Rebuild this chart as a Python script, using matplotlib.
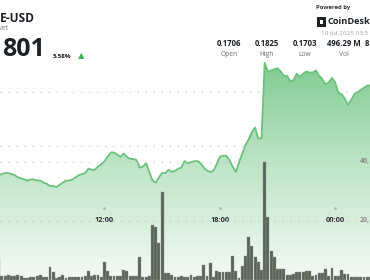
import numpy as np
import matplotlib
matplotlib.use("Agg")
import matplotlib.pyplot as plt
from matplotlib.colors import LinearSegmentedColormap
from matplotlib.patches import Rectangle
import matplotlib.transforms as mtransforms

plt.rcParams['font.family'] = ['Open Sans', 'DejaVu Sans']

# 10-minute steps, hours since 00:00 on 9 Jul (24 = 00:00 next day)
start_hour = 6.5
step = 1 / 6

price = [0.1723, 0.1724, 0.1725, 0.1725, 0.1724, 0.1723, 0.1721, 0.1720, 0.1719, 0.1718,
         0.1719, 0.1719, 0.1718, 0.1718, 0.1716, 0.1715, 0.1713, 0.1713, 0.1712, 0.1714,
         0.1716, 0.1718, 0.1718, 0.1719, 0.1721, 0.1723, 0.1724, 0.1725, 0.1729, 0.1728,
         0.1728, 0.1731, 0.1733, 0.1736, 0.1740, 0.1744, 0.1744, 0.1742, 0.1740, 0.1743,
         0.1740, 0.1738, 0.1738, 0.1737, 0.1730, 0.1731, 0.1734, 0.1726, 0.1718, 0.1716,
         0.1721, 0.1725, 0.1725, 0.1728, 0.1726, 0.1727, 0.1729, 0.1730, 0.1736, 0.1734,
         0.1735, 0.1736, 0.1736, 0.1734, 0.1730, 0.1727, 0.1726, 0.1727, 0.1733, 0.1740,
         0.1741, 0.1741, 0.1737, 0.1731, 0.1726, 0.1735, 0.1743, 0.1751, 0.1756, 0.1763,
         0.1767, 0.1757, 0.1757, 0.1827, 0.1819, 0.1820, 0.1821, 0.1822, 0.1819, 0.1815,
         0.1815, 0.1810, 0.1811, 0.1817, 0.1814, 0.1817, 0.1819, 0.1818, 0.1818, 0.1820,
         0.1815, 0.1812, 0.1807, 0.1809, 0.1813, 0.1809, 0.1799, 0.1798, 0.1794, 0.1788,
         0.1793, 0.1798, 0.1800, 0.1802, 0.1804, 0.1806, 0.1806]

# volume per bar, millions
volume = [7.5, 1.5, 1.4, 1.6, 1.5, 1.4, 1.6, 1.5, 0.8, 0.7,
          0.9, 1.0, 1.2, 1.6, 1.0, 0.9, 4.4, 2.7, 0.8, 0.9,
          1.6, 0.6, 0.9, 1.1, 0.9, 0.9, 1.0, 1.4, 3.0, 1.5,
          1.8, 1.7, 0.9, 6.1, 3.0, 1.4, 1.3, 1.4, 1.5, 3.4,
          3.2, 1.3, 1.2, 1.4, 7.8, 1.0, 1.1, 1.3, 18.6, 18.0,
          12.5, 29.8, 2.4, 2.4, 1.6, 0.9, 1.1, 1.3, 1.0, 1.1,
          1.6, 0.9, 1.2, 1.2, 5.1, 1.4, 5.8, 1.0, 3.1, 2.7,
          2.7, 2.7, 2.7, 8.1, 3.1, 0.8, 4.7, 8.1, 14.5, 11.5,
          7.8, 6.1, 3.4, 40.0, 21.4, 9.8, 7.8, 3.7, 3.7, 3.7,
          1.8, 1.7, 1.9, 2.7, 2.6, 2.8, 3.1, 3.0, 1.5, 1.6,
          2.5, 2.4, 3.7, 1.3, 4.0, 1.3, 1.2, 3.4, 2.0, 2.1,
          1.0, 0.9, 1.0, 1.1, 0.9, 1.0, 1.0]

hours = start_hour + step * np.arange(len(price))
time_ticks = [12, 18, 24]
time_labels = ['12:00', '18:00', '00:00']
price_grid = [0.180, 0.175]
vol_grid = [20, 40]
vol_labels = ['20,', '40,']

stats_values = ['0.1706', '0.1825', '0.1703', '496.29 M']
stats_names = ['Open', 'High', 'Low', 'Vol']

W, H = 370, 280
fig = plt.figure(figsize=(3.7, 2.8), dpi=100)
fig.patch.set_facecolor('white')

ax = fig.add_axes([0, 0, 1, 1])
ax.set_xlim(6.569, 25.81)
ax.set_ylim(0.16259, 0.188519)
ax.axis('off')
ax.patch.set_alpha(0)

ax2 = ax.twinx()
ax2.set_ylim(0, 94.9)
ax2.axis('off')
ax2.patch.set_alpha(0)

# gradient area under the price line
cmap = LinearSegmentedColormap.from_list('g', ['#f3faf4', '#bfe5c7', '#7cca8d'])
grad = np.linspace(0, 1, 256).reshape(-1, 1)
poly = ax.fill_between(hours, price, 0.16259, color='none')
img = ax.imshow(grad, aspect='auto', cmap=cmap, origin='lower',
                extent=[6.569, 25.81, 0.16259, 0.1835], zorder=1)
img.set_clip_path(poly.get_paths()[0], transform=ax.transData)
ax.plot(hours, price, color='#6cc27d', lw=1.3, zorder=3, solid_joinstyle='round')

for p in price_grid:
    ax.axhline(p, color='#c4c4c4', lw=1.0, ls=(0, (0.8, 5)), zorder=2)

ax2.bar(hours, volume, width=step * 0.9, color='#59635a', edgecolor='#8f998f',
        linewidth=0.3, zorder=4)
for v, lab in zip(vol_grid, vol_labels):
    ax2.axhline(v, xmax=0.96, color='#c4c4c4', lw=1.0, ls=(0, (0.8, 5)), zorder=2)
    ax2.text(1.0, v, lab, transform=mtransforms.blended_transform_factory(ax2.transAxes, ax2.transData),
             ha='right', va='center', fontsize=5, color='#8a8a8a', fontweight='bold')

trans = mtransforms.blended_transform_factory(ax.transData, ax.transAxes)
for t, lab in zip(time_ticks, time_labels):
    ax.text(t, 1 - 220 / H, lab, transform=trans, ha='center', va='center',
            fontsize=5.3, color='#2b2f33', fontweight='bold', zorder=5)
    ax.plot([t], [1 - 208 / H], transform=trans, marker='o', ms=0.8, color='#b0b0b0', zorder=5)


def ftext(x, y, s, **kw):
    fig.text(x / W, 1 - y / H, s, **kw)


# top-left header
ftext(0, 18, 'E-USD', fontsize=8.6, fontweight='bold', color='#1d2125', va='center')
ftext(0, 29, 'art', fontsize=5, color='#7a7a7a', va='center')
ftext(2, 49, '801', fontsize=18, fontweight='bold', color='#1d2125', va='center')
ftext(53, 56, '5.58%', fontsize=4.6, fontweight='bold', color='#1d2125', va='center')
ftext(78, 56, '▲', fontsize=6, color='#3fae5a', va='center', family='DejaVu Sans')

# top-right header
ftext(316, 7, 'Powered by', fontsize=4.3, fontweight='bold', color='#333333', va='center')
fig.add_artist(Rectangle((317 / W, 1 - 27 / H), 9 / W, 10 / H, transform=fig.transFigure,
                         facecolor='#1d2125', edgecolor='none'))
fig.add_artist(Rectangle((320 / W, 1 - 24 / H), 3 / W, 4 / H, transform=fig.transFigure,
                         facecolor='white', edgecolor='none'))
ftext(327.5, 22, 'CoinDesk', fontsize=6.6, fontweight='bold', color='#1d2125', va='center')
ftext(321, 33, '10 Jul 2025 03:5', fontsize=4.6, color='#a0a0a0', va='center')

stat_x = [229, 267, 305, 344]
for x, v, n in zip(stat_x, stats_values, stats_names):
    ftext(x, 44, v, fontsize=5.6, fontweight='bold', color='#1d2125', ha='center', va='center')
    ftext(x, 54, n, fontsize=4.8, color='#6f6f6f', ha='center', va='center')
ftext(365, 44, '8', fontsize=5.6, fontweight='bold', color='#1d2125', va='center')

fig.savefig('out.png', dpi=100)
